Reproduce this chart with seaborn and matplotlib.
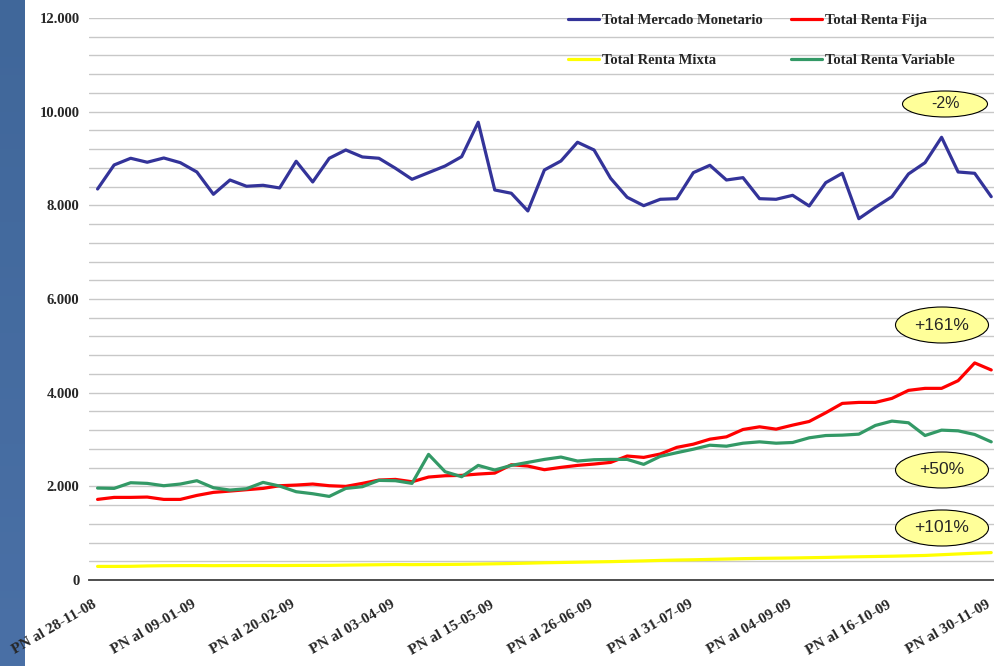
import numpy as np
import pandas as pd
import matplotlib
matplotlib.use("Agg")
import matplotlib.pyplot as plt
import matplotlib.transforms as mtransforms
import seaborn as sns
from matplotlib.patches import Ellipse
from matplotlib.ticker import MultipleLocator, FuncFormatter

# fechas semanales del patrimonio neto (PN)
fechas = [
    "28-11-08", "05-12-08", "12-12-08", "19-12-08", "26-12-08", "02-01-09",
    "09-01-09", "16-01-09", "23-01-09", "30-01-09", "06-02-09", "13-02-09",
    "20-02-09", "27-02-09", "06-03-09", "13-03-09", "20-03-09", "27-03-09",
    "03-04-09", "10-04-09", "17-04-09", "24-04-09", "01-05-09", "08-05-09",
    "15-05-09", "22-05-09", "29-05-09", "05-06-09", "12-06-09", "19-06-09",
    "26-06-09", "30-06-09", "03-07-09", "10-07-09", "17-07-09", "24-07-09",
    "31-07-09", "07-08-09", "14-08-09", "21-08-09", "28-08-09", "31-08-09",
    "04-09-09", "11-09-09", "18-09-09", "25-09-09", "02-10-09", "09-10-09",
    "16-10-09", "23-10-09", "30-10-09", "06-11-09", "13-11-09", "20-11-09",
    "30-11-09",
]

monetario = [8349, 8862, 9005, 8920, 9011, 8911, 8712, 8236, 8541, 8407,
             8428, 8371, 8941, 8499, 9005, 9182, 9033, 9005, 8791, 8556,
             8698, 8840, 9039, 9774, 8328, 8258, 7880, 8755, 8947, 9347,
             9182, 8578, 8172, 7993, 8129, 8142, 8698, 8855, 8541, 8591,
             8142, 8129, 8214, 7986, 8484, 8684, 7715, 7958, 8185, 8670,
             8911, 9453, 8712, 8684, 8185]

renta_fija = [1721, 1764, 1764, 1771, 1721, 1721, 1806, 1871, 1899, 1928,
              1956, 2013, 2027, 2049, 2013, 1999, 2063, 2134, 2148, 2098,
              2198, 2226, 2234, 2262, 2283, 2461, 2433, 2355, 2405, 2447,
              2476, 2511, 2647, 2618, 2690, 2832, 2900, 3007, 3057, 3214,
              3271, 3221, 3307, 3385, 3571, 3771, 3792, 3792, 3878, 4049,
              4092, 4092, 4256, 4635, 4485]

renta_mixta = [290, 290, 292, 300, 305, 307, 308, 306, 308, 309,
               310, 309, 311, 312, 313, 318, 322, 326, 330, 328,
               330, 332, 335, 340, 346, 352, 360, 368, 374, 380,
               386, 392, 400, 408, 418, 426, 432, 440, 448, 456,
               462, 466, 470, 476, 482, 490, 496, 502, 508, 516,
               524, 540, 556, 572, 585]

renta_variable = [1963, 1956, 2077, 2063, 2013, 2049, 2120, 1970, 1920, 1949,
                  2084, 2006, 1885, 1842, 1785, 1956, 1992, 2127, 2120, 2063,
                  2682, 2312, 2205, 2447, 2348, 2447, 2511, 2575, 2625, 2540,
                  2568, 2575, 2575, 2469, 2640, 2718, 2793, 2878, 2857, 2921,
                  2950, 2921, 2936, 3036, 3085, 3093, 3114, 3300, 3393, 3357,
                  3085, 3200, 3185, 3107, 2950]

series = ["Total Mercado Monetario", "Total Renta Fija",
          "Total Renta Mixta", "Total Renta Variable"]
colores = ["#333399", "#ff0000", "#ffff00", "#339966"]
variaciones = ["-2%", "+161%", "+50%", "+101%"]

df = pd.DataFrame({
    "idx": np.arange(len(fechas)),
    series[0]: monetario,
    series[1]: renta_fija,
    series[2]: renta_mixta,
    series[3]: renta_variable,
})
largo = df.melt(id_vars="idx", var_name="serie", value_name="valor")

sns.set_style("white")
plt.rcParams["font.family"] = ["Liberation Serif", "DejaVu Serif"]

W, H = 994, 666
fig = plt.figure(figsize=(W / 100, H / 100), dpi=100)

# franja azul a la izquierda
band = fig.add_axes([0, 0, 25 / W, 1])
grad = np.linspace(0, 1, 256).reshape(-1, 1)
band.imshow(grad, aspect="auto",
            cmap=matplotlib.colors.LinearSegmentedColormap.from_list(
                "band", ["#40679a", "#4a70a6"]))
band.set_axis_off()

ax = fig.add_axes([89.3 / W, 1 - 580 / H, 910.2 / W, 562 / H])
sns.lineplot(data=largo, x="idx", y="valor", hue="serie", hue_order=series,
             palette=dict(zip(series, colores)), linewidth=2.3,
             estimator=None, sort=False, ax=ax)

ax.set_xlim(-0.5, len(fechas) - 0.5)
ax.set_ylim(0, 12000)
ax.set_xlabel("")
ax.set_ylabel("")

for s in ["top", "right", "left"]:
    ax.spines[s].set_visible(False)
ax.spines["bottom"].set_color("#404040")
ax.spines["bottom"].set_linewidth(1.3)

# eje y
ax.yaxis.set_major_locator(MultipleLocator(2000))
ax.yaxis.set_minor_locator(MultipleLocator(400))
ax.yaxis.set_major_formatter(FuncFormatter(lambda v, p: f"{int(v):,}".replace(",", ".")))
ax.grid(which="both", axis="y", color="#c8c8c8", linewidth=1.0)
ax.grid(False, axis="x")
ax.tick_params(axis="y", which="both", length=0, pad=7, labelsize=10.5)
for t in ax.get_yticklabels():
    t.set_fontweight("bold")

# eje x
ax.set_xticks(range(0, len(fechas), 6))
ax.set_xticklabels(["PN al " + f for f in fechas[::6]], rotation=30,
                   ha="right", va="top", rotation_mode="anchor",
                   fontsize=11, fontweight="bold")
ax.set_xticks(np.arange(-0.5, len(fechas), 1), minor=True)
ax.tick_params(axis="x", which="major", length=0, pad=13)
ax.tick_params(axis="x", which="minor", direction="in", length=6,
               width=1.0, color="#404040")
desplaza = mtransforms.ScaledTranslation(-5 / 100, 0, fig.dpi_scale_trans)
for t in ax.get_xticklabels():
    t.set_transform(t.get_transform() + desplaza)

# leyenda
handles, labels = ax.get_legend_handles_labels()
ax.get_legend().remove()
orden = [0, 2, 1, 3]
fig.legend([handles[i] for i in orden], [labels[i] for i in orden],
           loc="upper left", bbox_to_anchor=(568 / W, 1 - 14 / H),
           bbox_transform=fig.transFigure, ncol=2, frameon=False,
           prop={"family": ["Liberation Serif"], "weight": "bold", "size": 10.5},
           handlelength=2.1, handletextpad=0.2, columnspacing=2.0,
           labelspacing=1.8, borderpad=0, borderaxespad=0)

# elipses con la variacion
pos = [(945, 104, 85, 26, 11.5), (942, 325, 93, 36, 12.5),
       (942, 470, 93, 36, 12.5), (942, 528, 93, 36, 12.5)]
for txt, (px, py, pw, ph, fs) in zip(variaciones, pos):
    cx = (px - 89.3) / 910.2
    cy = (580 - py) / 562
    ax.add_patch(Ellipse((cx, cy), pw / 910.2, ph / 562, transform=ax.transAxes,
                         facecolor="#ffff99", edgecolor="black", linewidth=0.8,
                         clip_on=False, zorder=5))
    ax.text(cx, cy, txt, transform=ax.transAxes, ha="center", va="center",
            fontsize=fs, family=["Liberation Sans"], zorder=6)

fig.savefig("out.png", dpi=100)
